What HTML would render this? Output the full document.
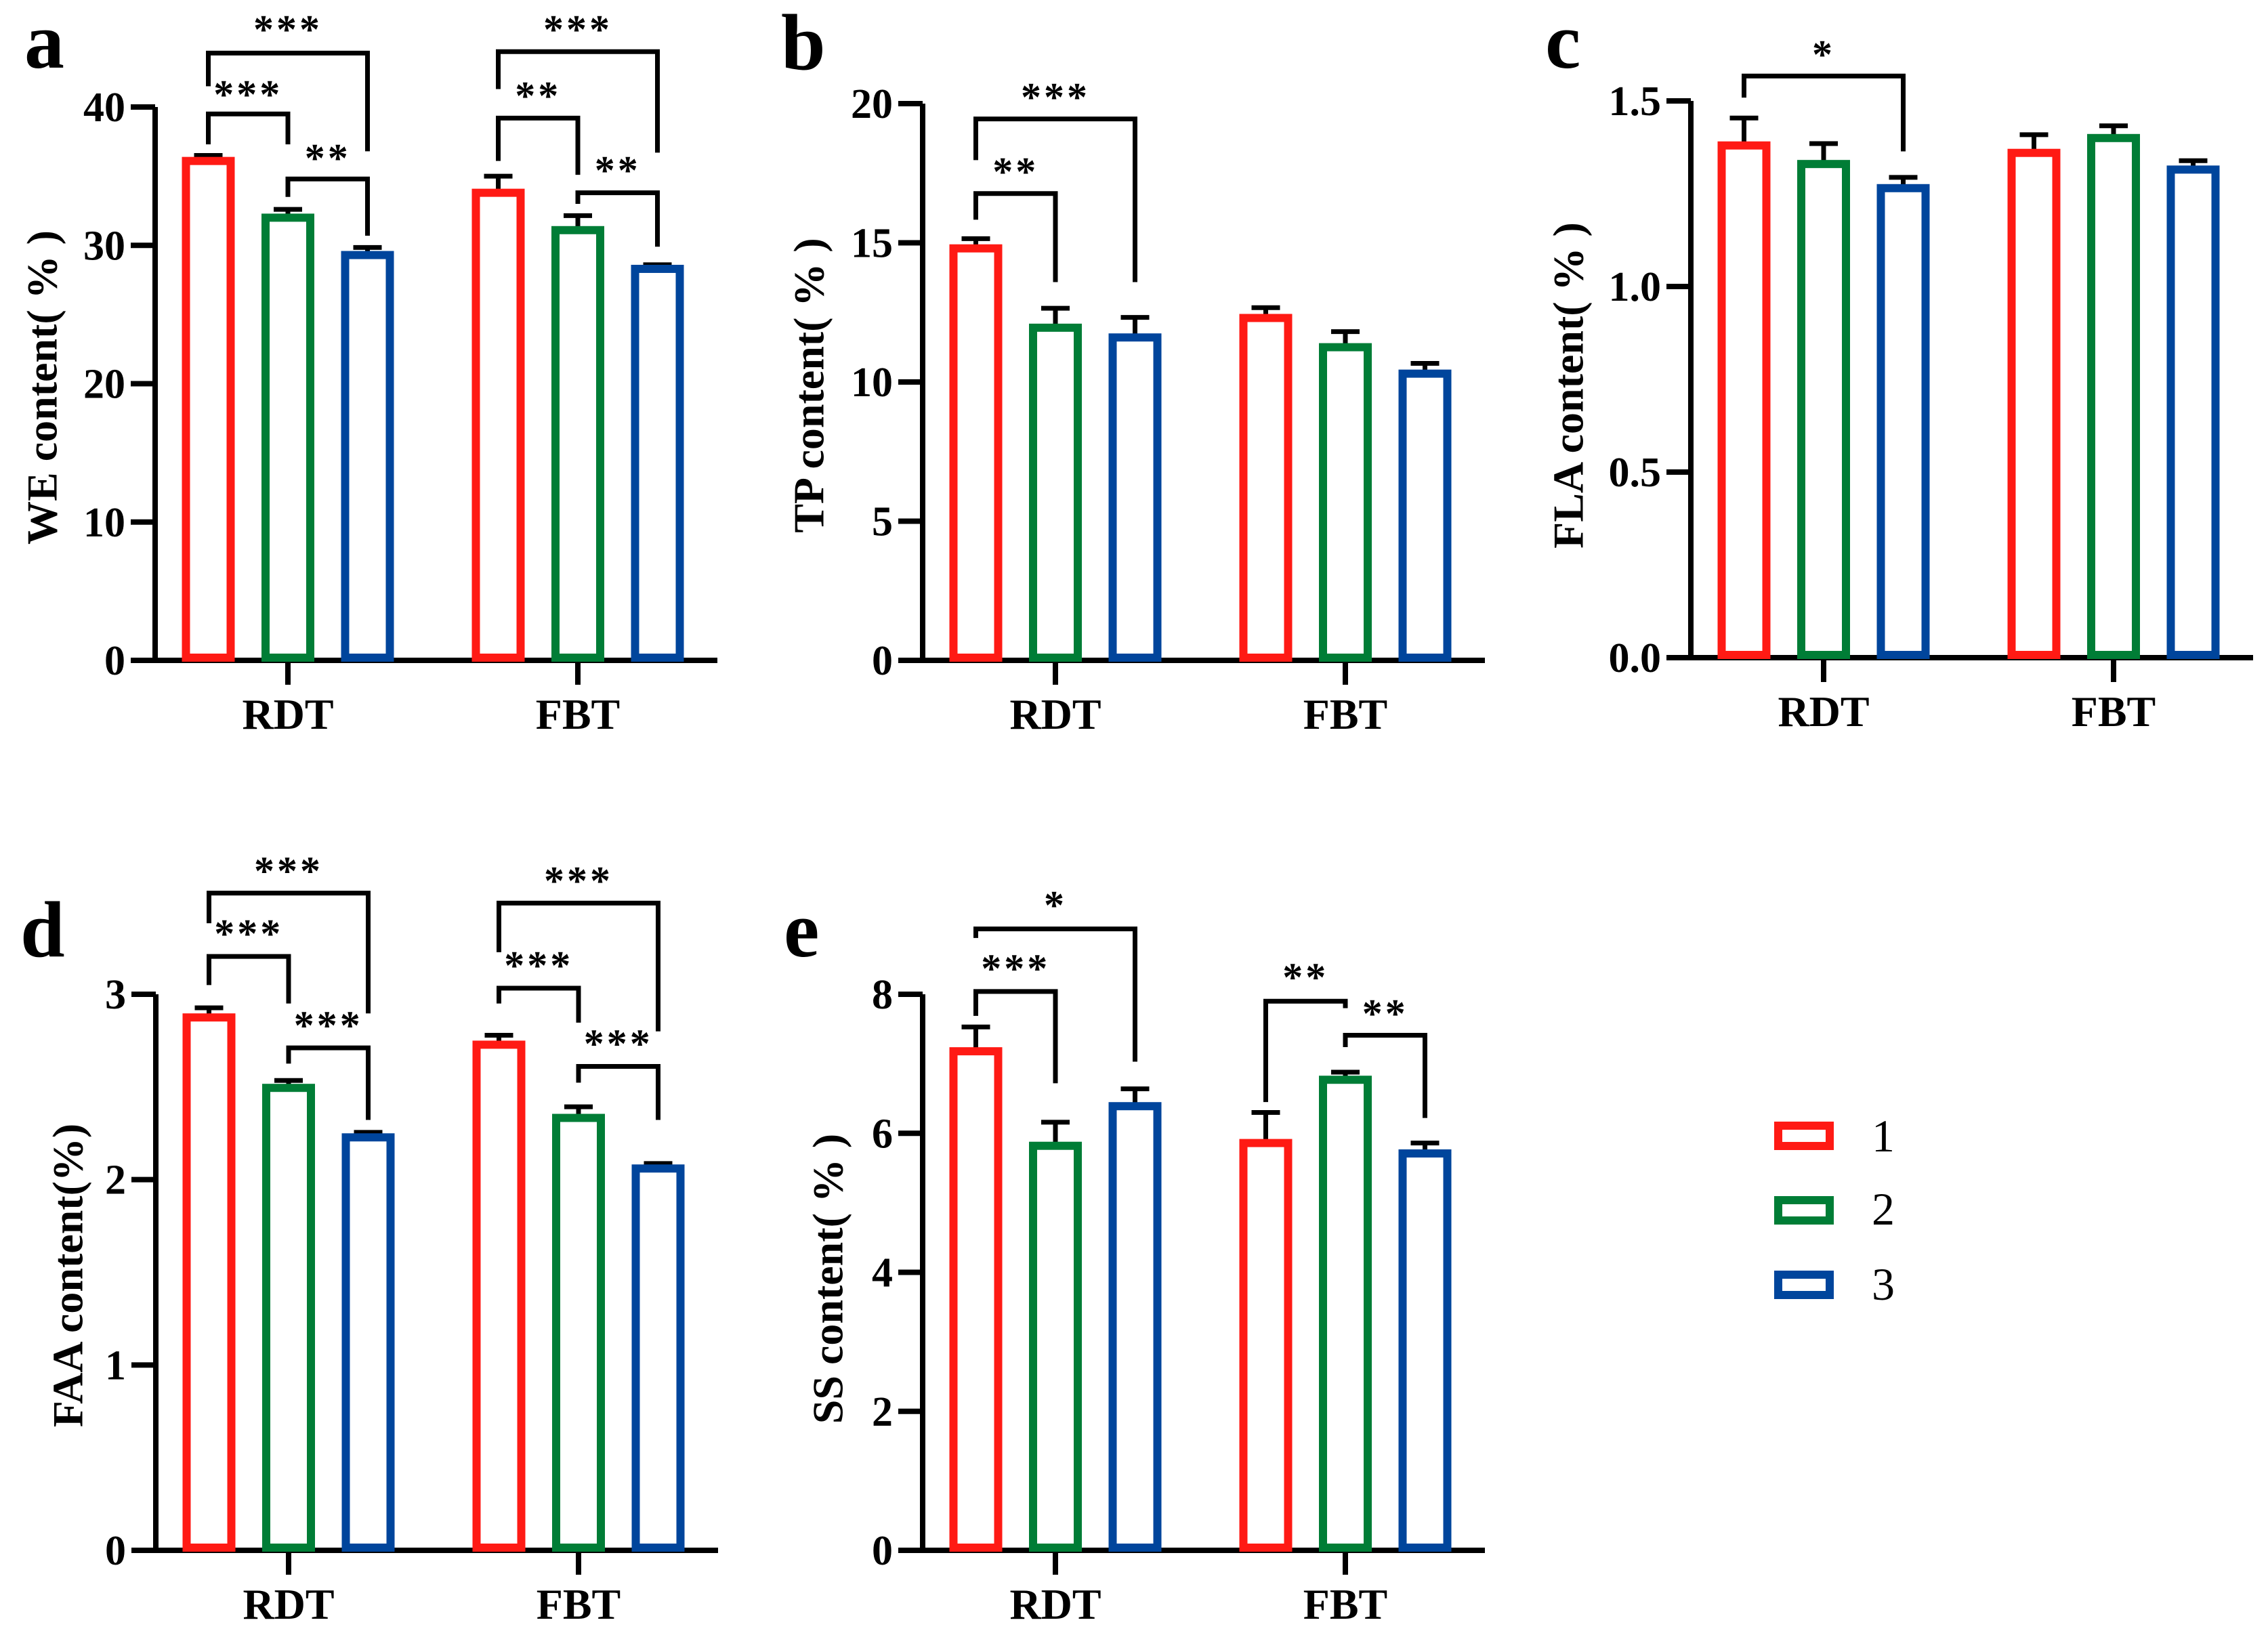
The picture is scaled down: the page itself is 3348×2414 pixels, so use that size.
<!DOCTYPE html>
<html><head><meta charset="utf-8">
<style>
html,body{margin:0;padding:0;background:#fff;}
svg{display:block;}
text{font-family:"Liberation Serif","Times New Roman",serif;}
</style></head>
<body>
<svg id="fig" width="3348" height="2414" viewBox="0 0 3348 2414" xmlns="http://www.w3.org/2000/svg" font-family="Liberation Serif, serif">
<rect width="3348" height="2414" fill="#fff"/>
<g>
  <rect x="2625" y="1662" width="76" height="30" fill="#fff" stroke="#ff1a14" stroke-width="12"/>
  <text x="2763" y="1700" font-size="68" font-family="Liberation Serif, serif">1</text>
  <rect x="2625" y="1772" width="76" height="30" fill="#fff" stroke="#007d36" stroke-width="12"/>
  <text x="2763" y="1808" font-size="68" font-family="Liberation Serif, serif">2</text>
  <rect x="2625" y="1882" width="76" height="30" fill="#fff" stroke="#00459c" stroke-width="12"/>
  <text x="2763" y="1919" font-size="68" font-family="Liberation Serif, serif">3</text>
</g>
</svg>
<script>
const categories = ["RDT", "FBT"];
const seriesNames = ["1", "2", "3"];
const colors = ["#ff1a14", "#007d36", "#00459c"];

// Panel a: WE
const aTicks = [0, 10, 20, 30, 40];
const aMeans = [[36.1, 32.0, 29.3], [33.8, 31.1, 28.3]];
const aErrs = [[36.5, 32.6, 29.85], [35.0, 32.15, 28.6]];
const aBrackets = [[0,0,1,39.5,37.3,37.3,41.4,"***"],[0,0,2,43.9,41.5,36.8,46.1,"***"],[0,1,2,34.8,33.5,30.7,36.8,"**"],
                   [1,0,1,39.2,36.1,35.1,41.3,"**"],[1,0,2,44.0,41.3,36.7,46.1,"***"],[1,1,2,33.8,33.0,29.9,35.9,"**"]];
// Panel b: TP
const bTicks = [0, 5, 10, 15, 20];
const bMeans = [[14.8, 11.95, 11.6], [12.3, 11.25, 10.3]];
const bErrs = [[15.15, 12.65, 12.32], [12.67, 11.81, 10.67]];
const bBrackets = [[0,0,1,16.77,15.83,13.59,17.8,"**"],[0,0,2,19.45,17.97,13.59,20.48,"***"]];
// Panel c: FLA
const cTicks = [0, 0.5, 1.0, 1.5];
const cTickLabels = ["0.0", "0.5", "1.0", "1.5"];
const cMeans = [[1.38, 1.33, 1.265], [1.36, 1.40, 1.315]];
const cErrs = [[1.454, 1.385, 1.294], [1.409, 1.433, 1.339]];
const cBrackets = [[0,0,2,1.567,1.509,1.364,1.643,"*"]];
// Panel d: FAA
const dTicks = [0, 1, 2, 3];
const dMeans = [[2.875, 2.495, 2.228], [2.728, 2.333, 2.06]];
const dErrs = [[2.927, 2.535, 2.255], [2.779, 2.393, 2.087]];
const dBrackets = [[0,0,1,3.204,3.05,2.95,3.363,"***"],[0,0,2,3.546,3.383,2.897,3.702,"***"],[0,1,2,2.711,2.626,2.322,2.868,"***"],
                   [1,0,1,3.033,2.95,2.847,3.192,"***"],[1,0,2,3.492,3.227,2.80,3.649,"***"],[1,1,2,2.611,2.523,2.322,2.77,"***"]];
// Panel e: SS
const eTicks = [0, 2, 4, 6, 8];
const eMeans = [[7.18, 5.82, 6.39], [5.86, 6.77, 5.71]];
const eErrs = [[7.53, 6.16, 6.64], [6.30, 6.88, 5.86]];
const eBrackets = [[0,0,1,8.04,7.69,6.72,8.47,"***"],[0,0,2,8.94,8.81,7.03,9.38,"*"],
                   [1,0,1,7.90,6.45,7.80,8.34,"**"],[1,1,2,7.41,7.24,6.22,7.82,"**"]];

const NS = "http://www.w3.org/2000/svg";
const svg = document.getElementById("fig");
const FONT = "Liberation Serif, serif";
function mk(tag, attrs, parent) {
  const el = document.createElementNS(NS, tag);
  for (const k in attrs) el.setAttribute(k, attrs[k]);
  if (tag === "text") el.setAttribute("font-family", FONT);
  parent.appendChild(el);
  return el;
}

const panels = [
  {id:"a", ax:229, zero:975, top:158, ticks:aTicks, labels:aTicks.map(String), means:aMeans, errs:aErrs, br:aBrackets, title:"WE content( % )", tx:62, ty:572, lx:36, ly:100},
  {id:"b", ax:1362, zero:975, top:153, ticks:bTicks, labels:bTicks.map(String), means:bMeans, errs:bErrs, br:bBrackets, title:"TP content( % )", tx:1194, ty:569, lx:1153, ly:102},
  {id:"c", ax:2496, zero:971, top:149, ticks:cTicks, labels:cTickLabels, means:cMeans, errs:cErrs, br:cBrackets, title:"FLA content( % )", tx:2315, ty:569, lx:2281, ly:100},
  {id:"d", ax:230, zero:2289, top:1468, ticks:dTicks, labels:dTicks.map(String), means:dMeans, errs:dErrs, br:dBrackets, title:"FAA content(%)", tx:100, ty:1883, lx:30, ly:1412},
  {id:"e", ax:1362, zero:2289, top:1468, ticks:eTicks, labels:eTicks.map(String), means:eMeans, errs:eErrs, br:eBrackets, title:"SS content( % )", tx:1222, ty:1888, lx:1157, ly:1412}
];

panels.forEach(p => {
  const g = mk("g", {}, svg);
  
  
  const maxV = p.ticks[p.ticks.length - 1];
  const y = v => p.zero - (v / maxV) * (p.zero - p.top);
  const groupX = gi => p.ax + (gi === 0 ? 196 : 624);
  const barX = (gi, si) => groupX(gi) + (si - 1) * 117.5;

  const letter = mk("text", {x:p.lx, y:p.ly, "font-size":118, "font-weight":"bold"}, g);
  letter.textContent = p.id;
  
  

  const t = mk("text", {x:p.tx, y:p.ty, "font-size":64, "font-weight":"bold", "text-anchor":"middle", "dominant-baseline":"central", transform:`rotate(-90 ${p.tx} ${p.ty})`}, g);
  t.textContent = p.title;
  
  

  const ya = mk("line", {x1:p.ax, y1:y(maxV), x2:p.ax, y2:p.zero + 4, stroke:"#000", "stroke-width":8}, g);
  
  
  p.ticks.forEach((tv, i) => {
    const tk = mk("line", {x1:p.ax - 36, y1:y(tv), x2:p.ax, y2:y(tv), stroke:"#000", "stroke-width":8}, g);
    
    
    const tl = mk("text", {x:p.ax - 44, y:y(tv) + 21, "font-size":62, "font-weight":"bold", "text-anchor":"end"}, g);
    tl.textContent = p.labels[i];
    
    
  });
  const xa = mk("line", {x1:p.ax - 36, y1:p.zero, x2:p.ax + 830, y2:p.zero, stroke:"#000", "stroke-width":8}, g);
  
  
  categories.forEach((c, gi) => {
    const tk = mk("line", {x1:groupX(gi), y1:p.zero, x2:groupX(gi), y2:p.zero + 36, stroke:"#000", "stroke-width":8}, g);
    
    
    const cl = mk("text", {x:groupX(gi), y:p.zero + 101, "font-size":64, "font-weight":"bold", "text-anchor":"middle"}, g);
    cl.textContent = c;
    
    
  });
  categories.forEach((c, gi) => {
    seriesNames.forEach((s, si) => {
      const cx = barX(gi, si);
      const ev = p.errs[gi][si], mv = p.means[gi][si];
      const el = mk("path", {d:`M${cx},${y(mv)} V${y(ev)} M${cx - 21},${y(ev)} H${cx + 21}`, stroke:"#000", "stroke-width":7, fill:"none"}, g);
      
      
      const b = mk("rect", {x:cx - 33, y:y(mv), width:66, height:p.zero - 4 - y(mv), fill:"none", stroke:colors[si], "stroke-width":12}, g);
      
      
    });
  });
  p.br.forEach(bk => {
    const [gi, s1, s2, topV, lV, rV, labV, lab] = bk;
    const x1 = barX(gi, s1), x2 = barX(gi, s2);
    const bp = mk("path", {d:`M${x1},${y(lV)} V${y(topV)} H${x2} V${y(rV)}`, stroke:"#000", "stroke-width":7, fill:"none"}, g);
    
    
    const st = mk("text", {x:(x1 + x2) / 2, y:y(labV) + 30, "font-size":60, "font-weight":"bold", "text-anchor":"middle", "letter-spacing":"4"}, g);
    st.textContent = lab;
    
    
  });
});
</script>
</body></html>
